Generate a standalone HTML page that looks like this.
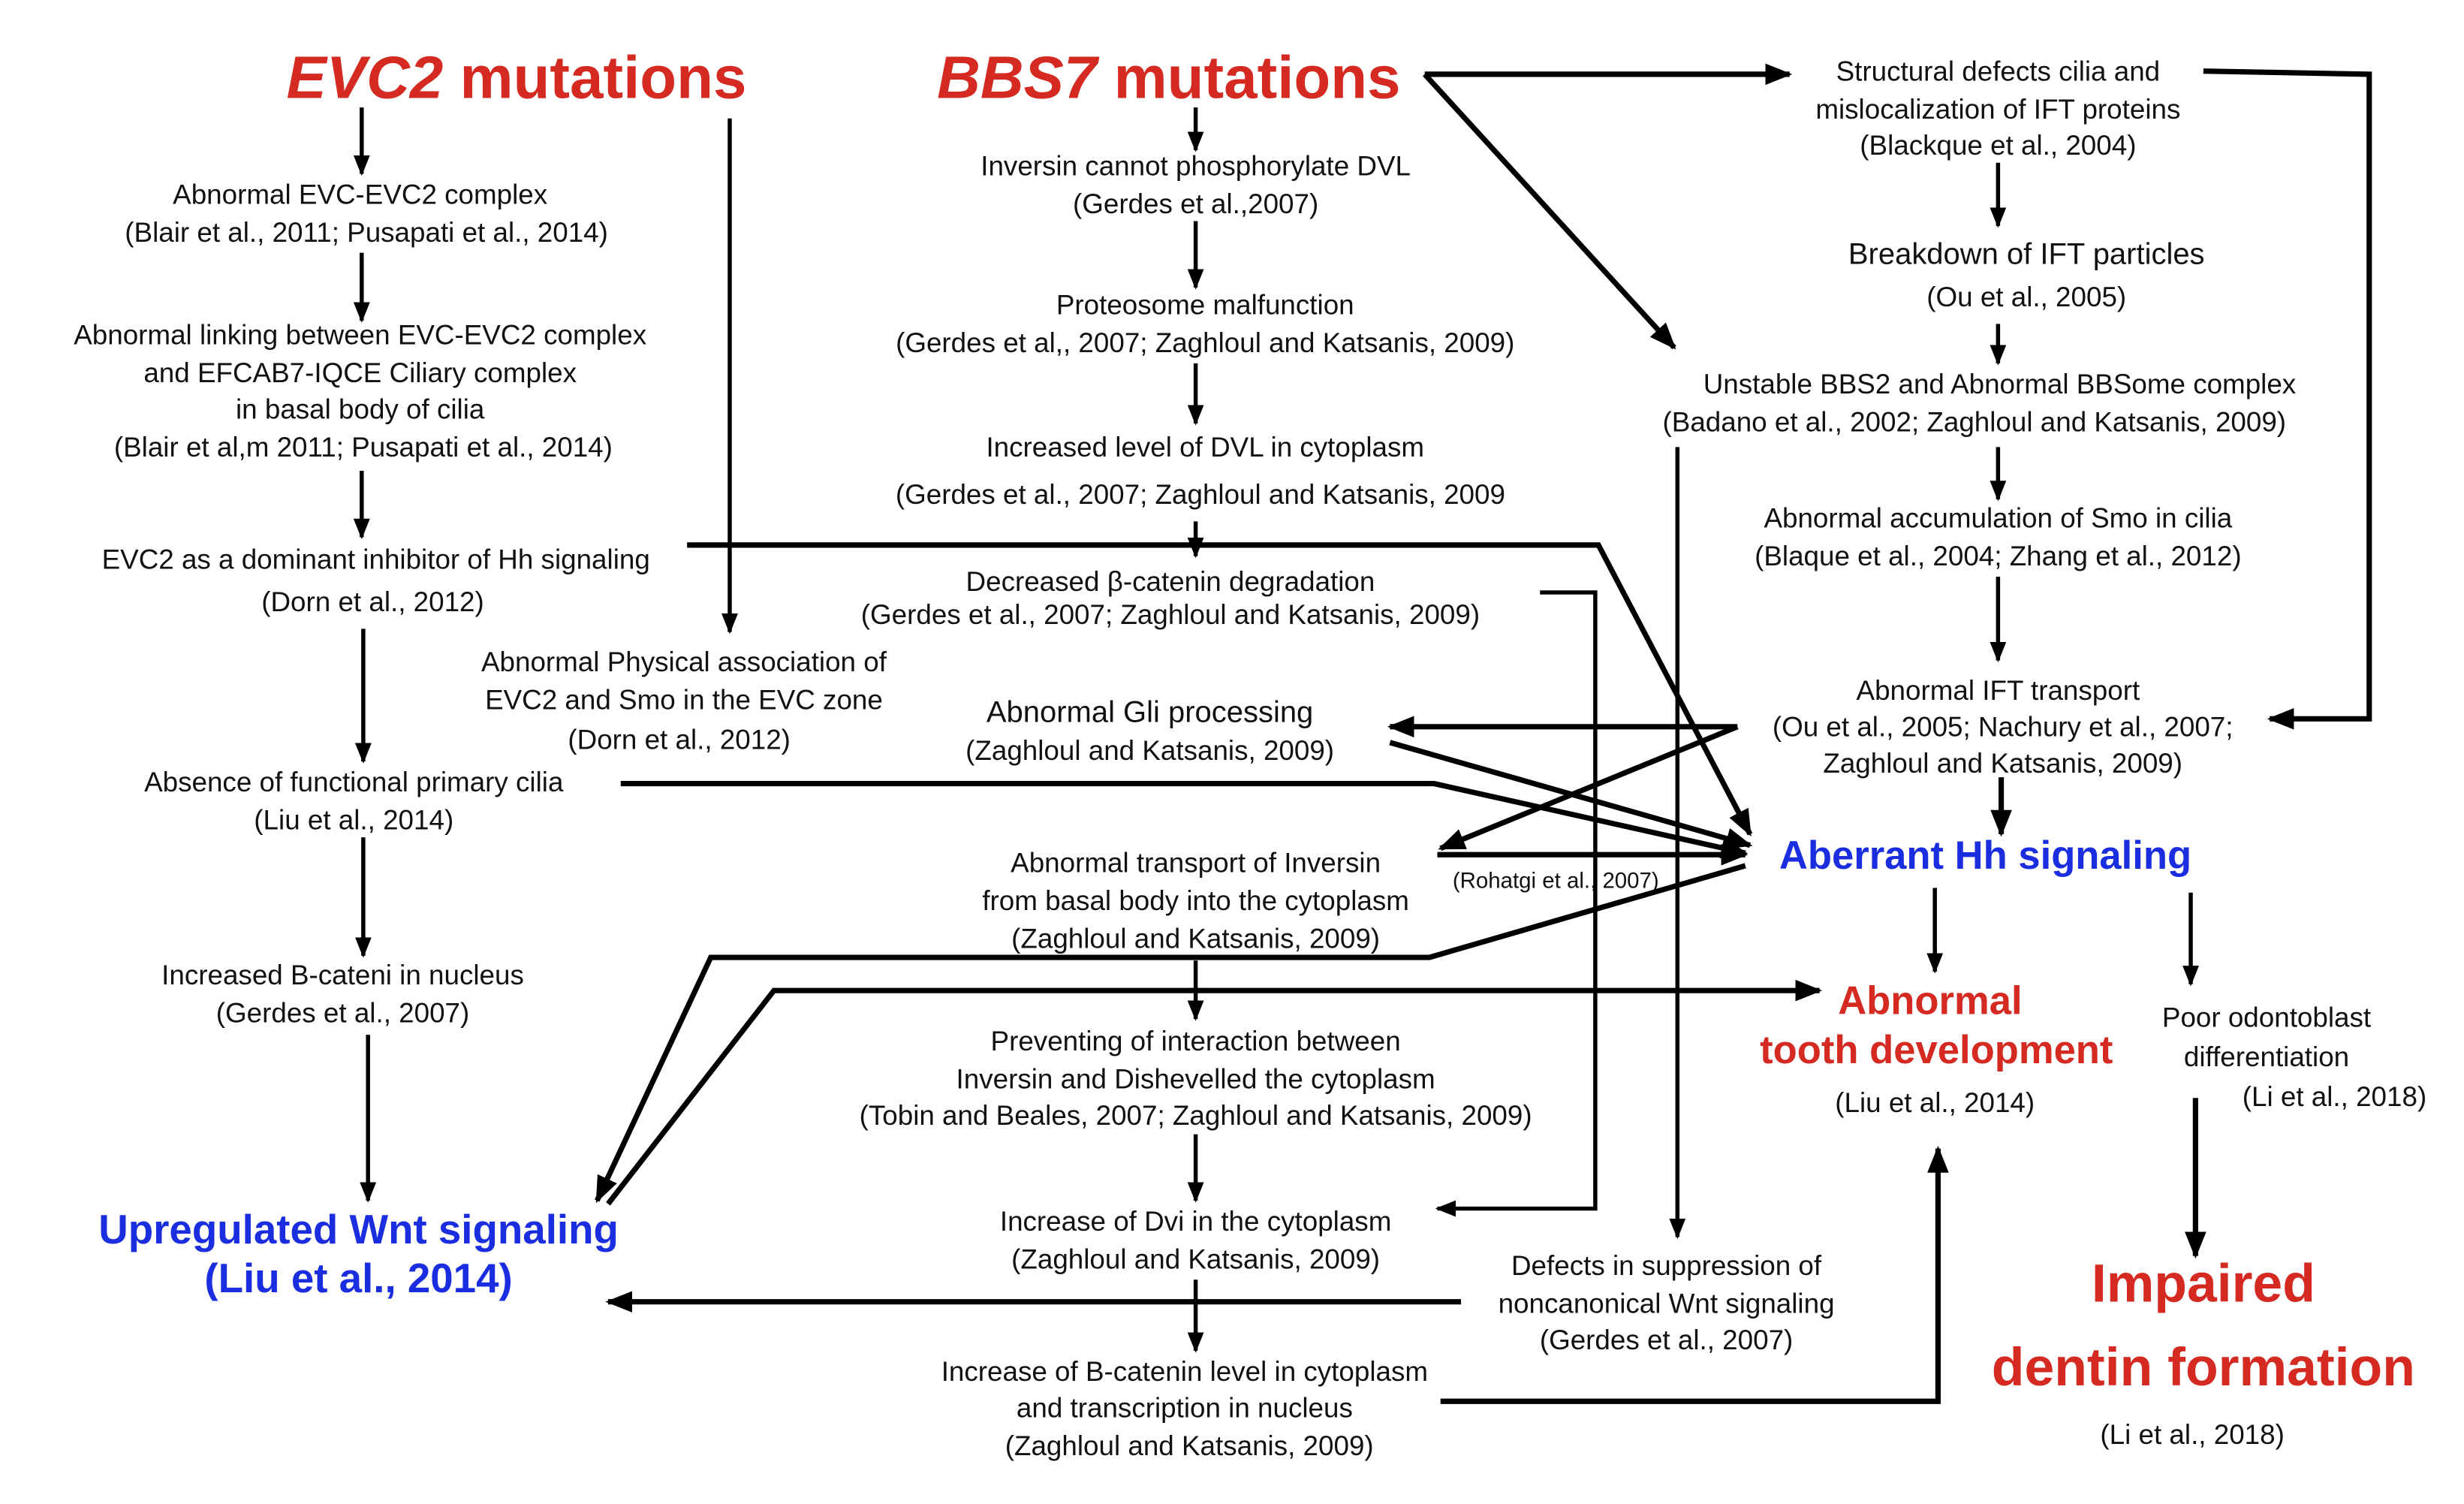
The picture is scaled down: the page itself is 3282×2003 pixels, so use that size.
<!DOCTYPE html>
<html><head><meta charset="utf-8"><style>
html,body{margin:0;padding:0;background:#fff;}
svg{display:block;}
text{font-family:"Liberation Sans",Arial,sans-serif;fill:#111;font-size:17.5px;text-anchor:middle;}
.r{fill:#d42a22;font-weight:bold;}
.b{fill:#1a2ee0;font-weight:bold;}
.l{stroke:#000;stroke-width:2.6;fill:none;}
.t{stroke:#000;stroke-width:3.4;fill:none;}
</style></head><body>
<svg width="3282" height="2003" viewBox="0 0 1560 952" preserveAspectRatio="none" xmlns="http://www.w3.org/2000/svg">
<defs>
<marker id="a" viewBox="0 0 10 10" refX="9" refY="5" markerWidth="5" markerHeight="5" orient="auto" markerUnits="strokeWidth"><path d="M0,1 L10,5 L0,9 Z" fill="#000"/></marker>
</defs>
<rect width="1560" height="952" fill="#fff"/>

<text x="327" y="62" class="r" style="font-size:38px"><tspan font-style="italic">EVC2</tspan> mutations</text>
<text x="740" y="62" class="r" style="font-size:38px"><tspan font-style="italic">BBS7</tspan> mutations</text>

<text x="228" y="129">Abnormal EVC-EVC2 complex</text>
<text x="232" y="153">(Blair et al., 2011; Pusapati et al., 2014)</text>
<text x="228" y="218">Abnormal linking between EVC-EVC2 complex</text>
<text x="228" y="242">and EFCAB7-IQCE Ciliary complex</text>
<text x="228" y="265">in basal body of cilia</text>
<text x="230" y="289">(Blair et al,m 2011; Pusapati et al., 2014)</text>
<text x="238" y="360">EVC2 as a dominant inhibitor of Hh signaling</text>
<text x="236" y="387">(Dorn et al., 2012)</text>
<text x="433" y="425">Abnormal Physical association of</text>
<text x="433" y="449">EVC2 and Smo in the EVC zone</text>
<text x="430" y="474">(Dorn et al., 2012)</text>
<text x="224" y="501">Absence of functional primary cilia</text>
<text x="224" y="525">(Liu et al., 2014)</text>
<text x="217" y="623">Increased B-cateni in nucleus</text>
<text x="217" y="647">(Gerdes et al., 2007)</text>
<text x="227" y="787" class="b" style="font-size:26px">Upregulated Wnt signaling</text>
<text x="227" y="818" class="b" style="font-size:26px">(Liu et al., 2014)</text>

<text x="757" y="111">Inversin cannot phosphorylate DVL</text>
<text x="757" y="135">(Gerdes et al.,2007)</text>
<text x="763" y="199">Proteosome malfunction</text>
<text x="763" y="223">(Gerdes et al,, 2007; Zaghloul and Katsanis, 2009)</text>
<text x="763" y="289">Increased level of DVL in cytoplasm</text>
<text x="760" y="319">(Gerdes et al., 2007; Zaghloul and Katsanis, 2009</text>
<text x="741" y="374">Decreased β-catenin degradation</text>
<text x="741" y="395">(Gerdes et al., 2007; Zaghloul and Katsanis, 2009)</text>
<text x="728" y="457" style="font-size:19px">Abnormal Gli processing</text>
<text x="728" y="481">(Zaghloul and Katsanis, 2009)</text>
<text x="757" y="552">Abnormal transport of Inversin</text>
<text x="757" y="576">from basal body into the cytoplasm</text>
<text x="757" y="600">(Zaghloul and Katsanis, 2009)</text>
<text x="985" y="562" style="font-size:14px">(Rohatgi et al., 2007)</text>
<text x="757" y="665">Preventing of interaction between</text>
<text x="757" y="689">Inversin and Dishevelled the cytoplasm</text>
<text x="757" y="712">(Tobin and Beales, 2007; Zaghloul and Katsanis, 2009)</text>
<text x="757" y="779">Increase of Dvi in the cytoplasm</text>
<text x="757" y="803">(Zaghloul and Katsanis, 2009)</text>
<text x="750" y="874">Increase of B-catenin level in cytoplasm</text>
<text x="750" y="897">and transcription in nucleus</text>
<text x="753" y="921">(Zaghloul and Katsanis, 2009)</text>
<text x="1055" y="807">Defects in suppression of</text>
<text x="1055" y="831">noncanonical Wnt signaling</text>
<text x="1055" y="854">(Gerdes et al., 2007)</text>

<text x="1265" y="51">Structural defects cilia and</text>
<text x="1265" y="75">mislocalization of IFT proteins</text>
<text x="1265" y="98">(Blackque et al., 2004)</text>
<text x="1283" y="167" style="font-size:19px">Breakdown of IFT particles</text>
<text x="1283" y="194">(Ou et al., 2005)</text>
<text x="1266" y="249">Unstable BBS2 and Abnormal BBSome complex</text>
<text x="1250" y="273">(Badano et al., 2002; Zaghloul and Katsanis, 2009)</text>
<text x="1265" y="334">Abnormal accumulation of Smo in cilia</text>
<text x="1265" y="358">(Blaque et al., 2004; Zhang et al., 2012)</text>
<text x="1265" y="443">Abnormal IFT transport</text>
<text x="1268" y="466">(Ou et al., 2005; Nachury et al., 2007;</text>
<text x="1268" y="489">Zaghloul and Katsanis, 2009)</text>
<text x="1257" y="550" class="b" style="font-size:25px">Aberrant Hh signaling</text>
<text x="1222" y="642" class="r" style="font-size:25px">Abnormal</text>
<text x="1226" y="673" class="r" style="font-size:25px">tooth development</text>
<text x="1225" y="704">(Liu et al., 2014)</text>
<text x="1435" y="650">Poor odontoblast</text>
<text x="1435" y="675">differentiation</text>
<text x="1478" y="700">(Li et al., 2018)</text>
<text x="1395" y="824" class="r" style="font-size:34px">Impaired</text>
<text x="1395" y="877" class="r" style="font-size:34px">dentin formation</text>
<text x="1388" y="914">(Li et al., 2018)</text>

<path class="l" d="M229,68 V110" marker-end="url(#a)"/>
<path class="l" d="M229,160 V203" marker-end="url(#a)"/>
<path class="l" d="M229,298 V340" marker-end="url(#a)"/>
<path class="l" d="M230,398 V482" marker-end="url(#a)"/>
<path class="l" d="M230,530 V605" marker-end="url(#a)"/>
<path class="l" d="M233,655 V760" marker-end="url(#a)"/>
<path class="l" d="M462,75 V400" marker-end="url(#a)"/>

<path class="l" d="M757,68 V95" marker-end="url(#a)"/>
<path class="l" d="M757,140 V182" marker-end="url(#a)"/>
<path class="l" d="M757,230 V268" marker-end="url(#a)"/>
<path class="l" d="M757,330 V352" marker-end="url(#a)"/>
<path class="l" d="M757,608 V645" marker-end="url(#a)"/>
<path class="l" d="M757,718 V760" marker-end="url(#a)"/>
<path class="l" d="M757,810 V855" marker-end="url(#a)"/>

<path class="t" d="M435,345 H1012 L1108,528" marker-end="url(#a)"/>
<path class="l" d="M975,375 H1010 V765 H910" marker-end="url(#a)"/>
<path class="t" d="M902,47 H1133" marker-end="url(#a)"/>
<path class="t" d="M902,47 L1060,220" marker-end="url(#a)"/>
<path class="t" d="M1395,45 L1500,47 V455 H1437" marker-end="url(#a)"/>
<path class="l" d="M1062,283 V783" marker-end="url(#a)"/>
<path class="t" d="M1100,460 H880" marker-end="url(#a)"/>
<path class="t" d="M1100,460 L912,537" marker-end="url(#a)"/>
<path class="t" d="M880,470 L1108,535" marker-end="url(#a)"/>
<path class="t" d="M393,496 H908 L1105,540" marker-end="url(#a)"/>
<path class="t" d="M910,541 H1105" marker-end="url(#a)"/>
<path class="t" d="M1105,548 L905,606 H450 L378,760" marker-end="url(#a)"/>
<path class="t" d="M385,762 L490,627 H1152" marker-end="url(#a)"/>
<path class="t" d="M925,824 H385" marker-end="url(#a)"/>
<path class="t" d="M912,887 H1227 V727" marker-end="url(#a)"/>

<path class="l" d="M1265,103 V143" marker-end="url(#a)"/>
<path class="l" d="M1265,205 V230" marker-end="url(#a)"/>
<path class="l" d="M1265,283 V316" marker-end="url(#a)"/>
<path class="l" d="M1265,365 V418" marker-end="url(#a)"/>
<path class="t" d="M1267,492 V528" marker-end="url(#a)"/>
<path class="l" d="M1225,562 V615" marker-end="url(#a)"/>
<path class="l" d="M1387,565 V623" marker-end="url(#a)"/>
<path class="t" d="M1390,695 V795" marker-end="url(#a)"/>
</svg>
</body></html>
